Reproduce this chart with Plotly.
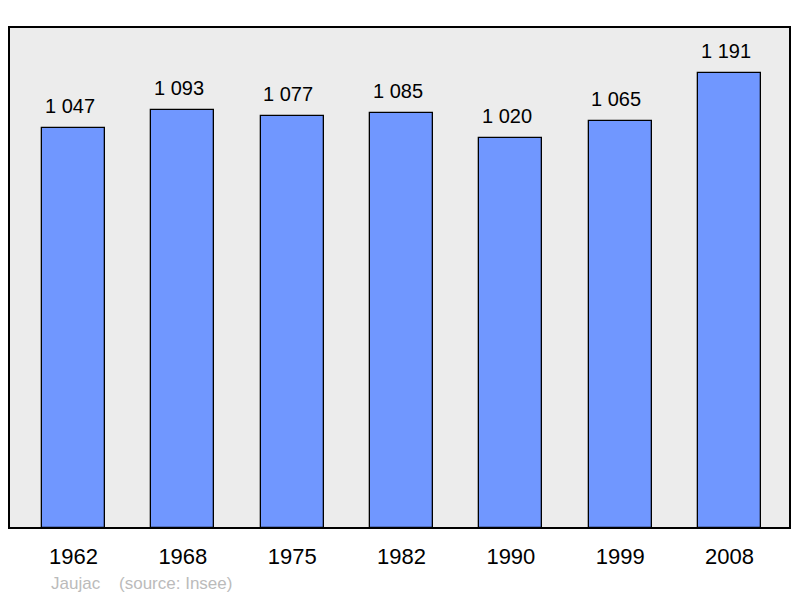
import plotly.graph_objects as go

years = ["1962", "1968", "1975", "1982", "1990", "1999", "2008"]
population = [1047, 1093, 1077, 1085, 1020, 1065, 1191]
value_labels = ["1 047", "1 093", "1 077", "1 085", "1 020", "1 065", "1 191"]

xs = list(range(len(years)))

fig = go.Figure()
fig.add_trace(go.Bar(
    x=xs, y=population, width=0.576,
    marker=dict(color="#7097FF", line=dict(color="#000000", width=1.3)),
    hoverinfo="skip",
))

for x, v, t in zip(xs, population, value_labels):
    fig.add_annotation(x=x, y=v, text=t, showarrow=False, yanchor="bottom",
                       yshift=9, xshift=-4,
                       font=dict(family="Liberation Sans, Arial", size=20, color="#000"))

fig.add_annotation(xref="paper", yref="paper", x=0.0512, y=-0.1098, xanchor="left", yanchor="middle",
                   text="Jaujac&nbsp;&nbsp;&nbsp;&nbsp;(source: Insee)", showarrow=False,
                   font=dict(family="Liberation Sans, Arial", size=17, color="#BBBBBB"))

fig.add_shape(type="rect", xref="paper", yref="paper", x0=0, y0=0, x1=1, y1=1,
              line=dict(color="#000", width=2), layer="above")

fig.update_layout(
    width=800, height=598,
    margin=dict(l=1, r=18, t=19, b=78),
    paper_bgcolor="#FFFFFF", plot_bgcolor="#ECECEC",
    showlegend=False, bargap=0,
    xaxis=dict(range=[-0.59, 6.553], tickmode="array", tickvals=xs, ticktext=years,
               showgrid=False, zeroline=False, showline=False,
               ticks="outside", ticklen=9, tickcolor="rgba(0,0,0,0)",
               tickfont=dict(family="Liberation Sans, Arial", size=22, color="#000")),
    yaxis=dict(range=[0, 1311], showgrid=False, zeroline=False, showticklabels=False, ticks=""),
)

fig.write_html("out.html")
